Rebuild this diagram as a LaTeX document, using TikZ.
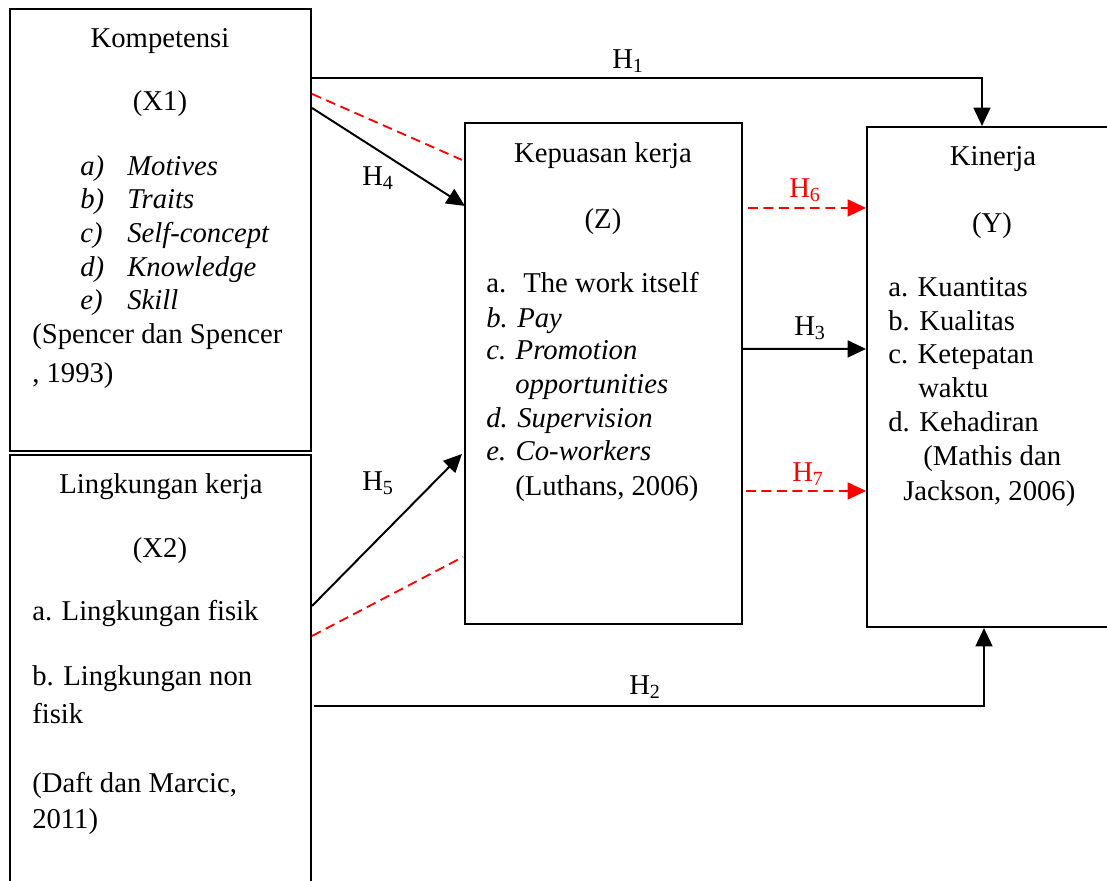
\documentclass[tikz,border=0pt]{standalone}
\usepackage{fontspec}
\setmainfont{Liberation Serif}
\usetikzlibrary{arrows.meta,calc}
\tikzset{
  varbox/.style={draw,line width=1.4pt,inner sep=0pt},
  hyp/.style={-{Triangle[length=13pt,width=12pt]},line width=1.4pt},
  redline/.style={red,line width=1.3pt,dash pattern=on 7pt off 4pt},
  hypred/.style={hyp,redline},
  txt/.style={inner sep=0pt,anchor=base west},
  ttl/.style={inner sep=0pt,anchor=base}
}
\begin{document}
\begin{tikzpicture}[x=0.025cm,y=-0.025cm,
  font=\fontsize{20.4}{24}\selectfont]
  \useasboundingbox (0,0) rectangle (1107,881);
  % boxes
  \node[varbox,minimum width=7.525cm,minimum height=11.05cm] (kom) at (160.5,230) {};
  \node[varbox,minimum width=7.525cm,minimum height=11.25cm] (lk) at (160.5,680) {};
  \node[varbox,minimum width=6.925cm,minimum height=12.525cm] (kep) at (603.5,373.5) {};
  \node[varbox,minimum width=6.1cm,minimum height=12.5cm] (kin) at (989,377) {};
  % Kompetensi
  \path (160,48) node[ttl] (komttl) {Kompetensi};
  \path (160,110) node[ttl] (komvar) {(X1)};
  \path (80,175) node[txt] (koma) {\itshape a)};
  \path (127,175) node[txt] (komaa) {\itshape Motives};
  \path (80,208) node[txt] (komb) {\itshape b)};
  \path (127,208) node[txt] (kombb) {\itshape Traits};
  \path (80,242) node[txt] (komc) {\itshape c)};
  \path (127,242) node[txt] (komcc) {\itshape Self-concept};
  \path (80,276) node[txt] (komd) {\itshape d)};
  \path (127,276) node[txt] (komdd) {\itshape Knowledge};
  \path (80,309) node[txt] (kome) {\itshape e)};
  \path (127,309) node[txt] (komee) {\itshape Skill};
  \path (32,343) node[txt] (komsrc) {(Spencer dan Spencer};
  \path (32,382) node[txt] (komsrcb) {, 1993)};
  % Lingkungan kerja
  \path (161,493) node[ttl] (lkttl) {Lingkungan kerja};
  \path (160,557) node[ttl] (lkvar) {(X2)};
  \path (32,620) node[txt] (lka) {a. Lingkungan fisik};
  \path (32,685) node[txt] (lkb) {b. Lingkungan non};
  \path (32,723) node[txt] (lkbb) {fisik};
  \path (32,792) node[txt] (lksrc) {(Daft dan Marcic,};
  \path (32,828) node[txt] (lksrcb) {2011)};
  % Kepuasan kerja
  \path (603,162) node[ttl] (kepttl) {Kepuasan kerja};
  \path (603,228) node[ttl] (kepvar) {(Z)};
  \path (486,292) node[txt] (kepa) {a.};
  \path (523,292) node[txt] (kepaa) {The work itself};
  \path (486,327) node[txt] (kepb) {\itshape b. Pay};
  \path (486,359) node[txt] (kepc) {\itshape c. Promotion};
  \path (515,393) node[txt] (kepcc) {\itshape opportunities};
  \path (486,427) node[txt] (kepd) {\itshape d. Supervision};
  \path (486,460) node[txt] (kepe) {\itshape e. Co-workers};
  \path (515,495) node[txt] (kepsrc) {(Luthans, 2006)};
  % Kinerja
  \path (993,165) node[ttl] (kinttl) {Kinerja};
  \path (992,232) node[ttl] (kinvar) {(Y)};
  \path (888,296) node[txt] (kina) {a. Kuantitas};
  \path (888,330) node[txt] (kinb) {b. Kualitas};
  \path (888,363) node[txt] (kinc) {c. Ketepatan};
  \path (918,397) node[txt] (kincc) {waktu};
  \path (888,431) node[txt] (kind) {d. Kehadiran};
  \path (923,465) node[txt] (kinsrc) {(Mathis dan};
  \path (903,500) node[txt] (kinsrcb) {Jackson, 2006)};
  % hypotheses
  \draw[hyp] ($(kom.north east)+(0,70)$) -| ($(kin.north west)+(116,0)$);
  \draw[hyp] ($(lk.north east)+(2,252)$) -| ($(kin.south west)+(118,0)$);
  \draw[redline] ($(kom.north east)+(0,86)$) -- ($(kep.north west)+(-2,38)$);
  \draw[hyp] ($(kom.north east)+(0,100)$) -- ($(kep.north west)+(1,84)$);
  \draw[hyp] ($(lk.north east)+(0,152)$) -- ($(kep.north west)+(-2,332)$);
  \draw[redline] ($(lk.north east)+(0,182)$) -- ($(kep.north west)+(-1,435)$);
  \draw[hypred] ($(kep.north east)+(5,86)$) -- ($(kin.north west)+(0,82)$);
  \draw[hyp] ($(kep.north east)+(0,227)$) -- ($(kin.north west)+(0,223)$);
  \draw[hypred] ($(kep.north east)+(3,369)$) -- ($(kin.north west)+(0,365)$);
  % labels
  \path (628,68) node[ttl] (hone) {H\textsubscript{1}};
  \path (645,694) node[ttl] (htwo) {H\textsubscript{2}};
  \path (810,335) node[ttl] (hthree) {H\textsubscript{3}};
  \path (378,185) node[ttl] (hfour) {H\textsubscript{4}};
  \path (378,490) node[ttl] (hfive) {H\textsubscript{5}};
  \path (805,197) node[ttl,red] (hsix) {H\textsubscript{6}};
  \path (808,481) node[ttl,red] (hseven) {H\textsubscript{7}};
\end{tikzpicture}
\end{document}
